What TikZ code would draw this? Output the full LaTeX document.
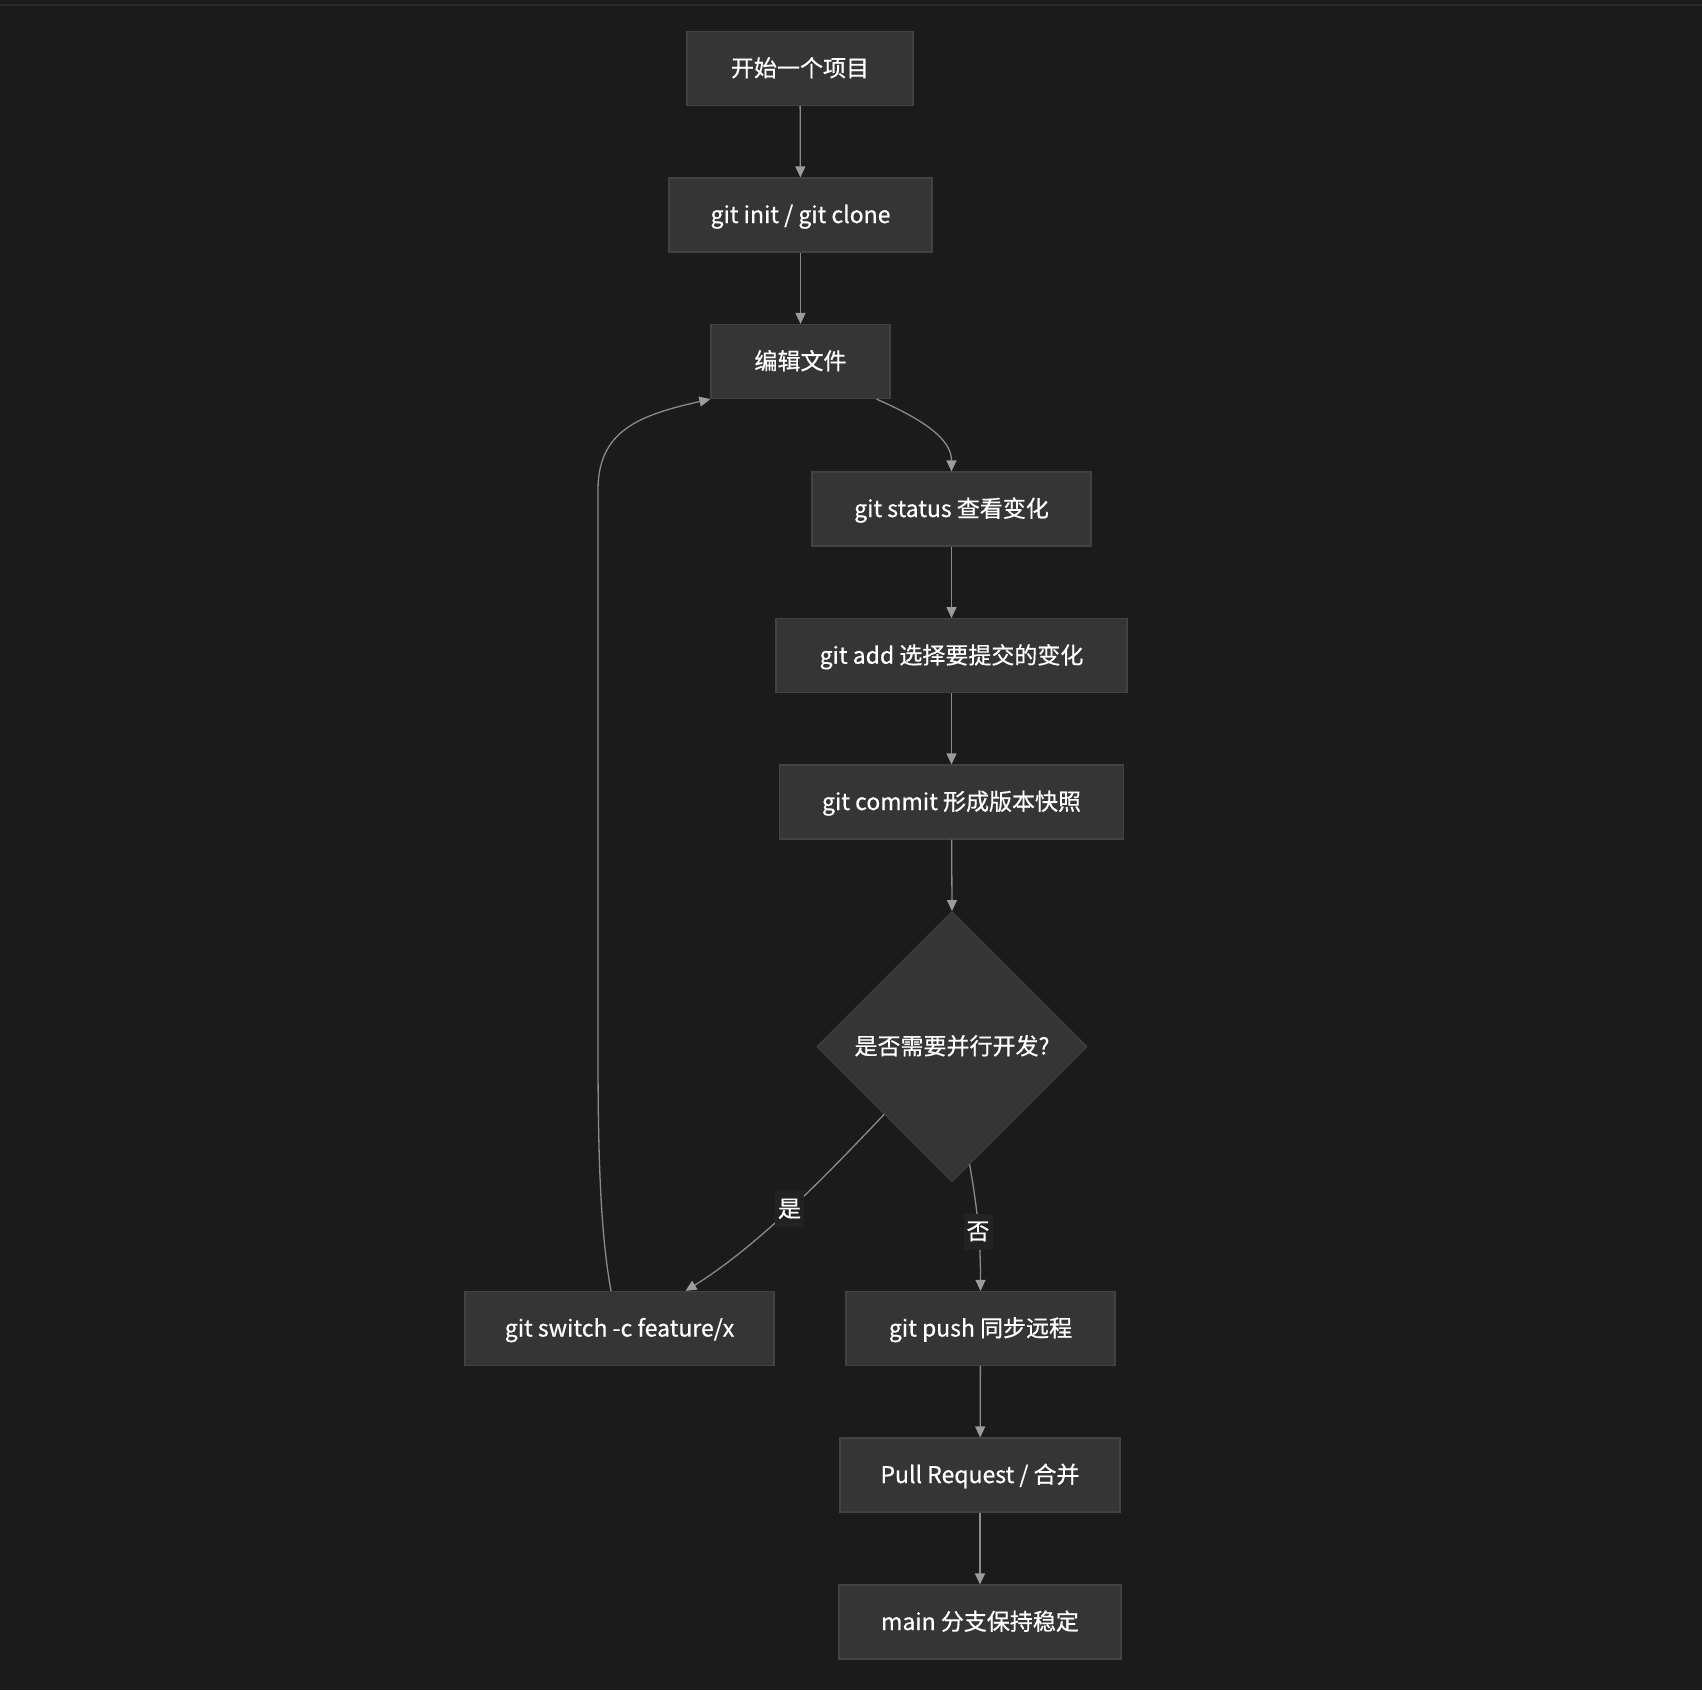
\documentclass[tikz,border=0pt]{standalone}
\usepackage{fontspec}
\setmainfont{Noto Sans CJK SC}[FakeBold=0.6]
\usetikzlibrary{shapes.geometric,arrows.meta,calc}
\definecolor{bgc}{HTML}{1B1B1B}
\definecolor{topline}{HTML}{2C2C2C}
\definecolor{boxfill}{HTML}{353535}
\definecolor{boxline}{HTML}{424242}
\definecolor{edgec}{HTML}{8A8A8A}
\definecolor{lblbg}{HTML}{222222}
\tikzset{
  boxnode/.style={rectangle, fill=boxfill, draw=boxline, line width=1.2pt,
    minimum height=74pt, inner xsep=0pt, inner ysep=0pt, text=white,
    text height=20pt, text depth=4pt,
    font=\fontsize{23}{27}\selectfont},
  decision/.style={diamond, aspect=1, fill=boxfill, draw=boxline, line width=1pt,
    minimum width=270pt, minimum height=270pt, inner sep=0pt, text=white,
    text height=20pt, text depth=4pt,
    font=\fontsize{23}{27}\selectfont},
  flow/.style={draw=edgec, line width=1.3pt,
    -{Triangle[length=11pt,width=10pt,fill=edgec!85!white,color=edgec!85!white]}},
  edgelabel/.style={fill=lblbg, text=white, inner xsep=3pt, inner ysep=6pt,
    text height=20pt, text depth=4pt,
    font=\fontsize{23}{27}\selectfont}
}
\begin{document}
\begin{tikzpicture}[x=1pt,y=-1pt]
\fill[bgc] (0,0) rectangle (1702,1690);
\useasboundingbox (0,0) rectangle (1702,1690);
\draw[topline, line width=2pt] (0,5) -- (1702,5);

\node[boxnode, minimum width=226pt] (start) at (800,68.5) {开始一个项目};
\node[boxnode, minimum width=263pt] (init) at (800.5,215) {git init / git clone};
\node[boxnode, minimum width=179pt] (edit) at (800.5,361.5) {编辑文件};
\node[boxnode, minimum width=279pt] (status) at (951.5,509) {git status 查看变化};
\node[boxnode, minimum width=351pt] (add) at (951.5,655.7) {git add 选择要提交的变化};
\node[boxnode, minimum width=344pt] (commit) at (951.5,802) {git commit 形成版本快照};
\node[decision] (dec) at (952,1046.5) {是否需要并行开发?};
\node[boxnode, minimum width=309pt] (switch) at (619.5,1328.5) {git switch -c feature/x};
\node[boxnode, minimum width=269pt] (push) at (980.5,1328.5) {git push 同步远程};
\node[boxnode, minimum width=280pt] (pr) at (980,1475) {Pull Request / 合并};
\node[boxnode, minimum width=282pt] (main) at (980,1622) {main 分支保持稳定};

\draw[flow] (start) -- (init);
\draw[flow] (init) -- (edit);
\draw[flow] ([xshift=76pt]edit.south) .. controls +(48,21) and +(0,-32) .. (status.north);
\draw[flow] (status) -- (add);
\draw[flow] (add) -- (commit);
\draw[flow] (commit) -- (dec.north);
\draw[flow] (dec.south west) .. controls +(-55,58) and +(74,-46) .. ([xshift=66pt]switch.north);
\draw[flow] ($(dec.south)!0.13!(dec.east)$) .. controls +(6,35) and +(0,-60) .. (push.north);
\draw[flow] (push) -- (pr);
\draw[flow] (pr) -- (main);
\draw[flow] ([xshift=-8.5pt]switch.north) .. controls +(-11,-60) and +(0,100) .. (598,1050)
  -- (598,490) .. controls (598,430) and (640,415) .. (edit.south west);

\node[edgelabel] (yes) at (789.5,1209) {是};
\node[edgelabel] (no) at (978,1231.5) {否};
\end{tikzpicture}
\end{document}
